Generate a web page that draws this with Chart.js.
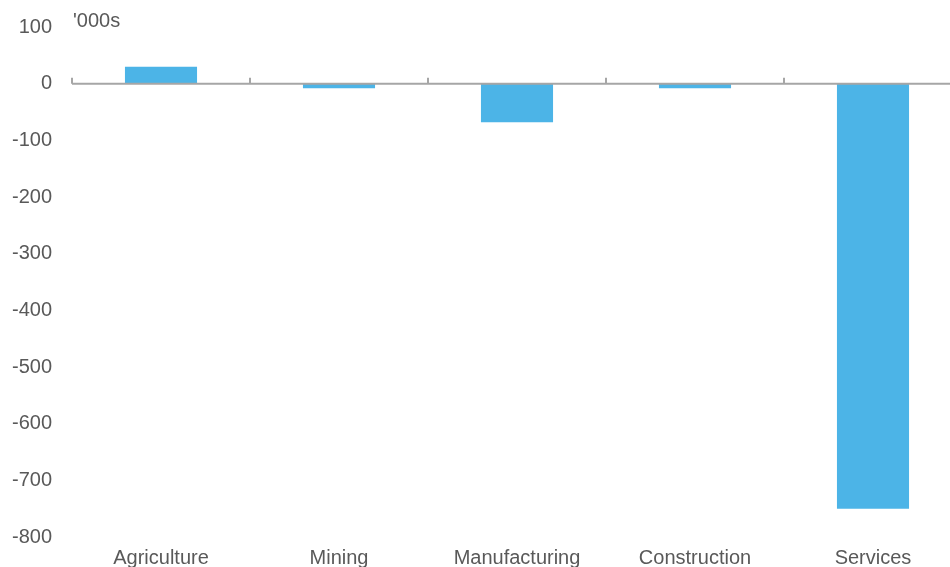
<!DOCTYPE html>
<html>
<head>
<meta charset="utf-8">
<script src="https://cdn.jsdelivr.net/npm/chart.js@4"></script>
<style>
  html, body { margin: 0; padding: 0; background: #fff; overflow: hidden; }
  #wrap { position: relative; width: 962px; height: 567px; }
  #unit { position: absolute; left: 73px; top: 9px; font: 20px "Liberation Sans", Arial, sans-serif; color: #595959; }
</style>
</head>
<body>
<div id="wrap">
  <canvas id="chart" width="962" height="567"></canvas>
  <div id="unit">'000s</div>
</div>
<script>
// sectors and change in employment ('000s)
const sectors = ['Agriculture', 'Mining', 'Manufacturing', 'Construction', 'Services'];
const changes = [30, -8, -68, -8, -750];
const yMin = -800;
const yMax = 100;
const yStep = 100;

const barColor = '#4cb4e7';
const axisGrey = '#a6a6a6';
const textGrey = '#595959';
const fontFamily = '"Liberation Sans", Arial, sans-serif';

// zero line with little tick marks between categories, drawn over the bars
const zeroAxis = {
  id: 'zeroAxis',
  afterDatasetsDraw(chart) {
    const ctx = chart.ctx;
    const x = chart.scales.x;
    const y = chart.scales.y;
    const y0 = y.getPixelForValue(0);
    const half = (x.getPixelForValue(1) - x.getPixelForValue(0)) / 2;
    ctx.save();
    ctx.strokeStyle = axisGrey;
    ctx.lineWidth = 2;
    ctx.beginPath();
    ctx.moveTo(chart.chartArea.left, y0);
    ctx.lineTo(chart.chartArea.right, y0);
    ctx.stroke();
    for (let i = 0; i <= sectors.length; i++) {
      const px = Math.round(x.getPixelForValue(i) - half);
      ctx.beginPath();
      ctx.moveTo(px, y0);
      ctx.lineTo(px, y0 - 6);
      ctx.stroke();
    }
    ctx.restore();
  }
};

new Chart(document.getElementById('chart'), {
  type: 'bar',
  data: {
    labels: sectors,
    datasets: [{
      data: changes,
      backgroundColor: barColor,
      barPercentage: 0.405,
      categoryPercentage: 1
    }]
  },
  options: {
    responsive: false,
    animation: false,
    layout: { padding: { left: 0, right: 0, top: 27, bottom: 0 } },
    plugins: { legend: { display: false }, tooltip: { enabled: false } },
    scales: {
      x: {
        afterFit(scale) { scale.height = 30; },
        grid: { display: false },
        border: { display: false },
        ticks: {
          color: textGrey,
          padding: 1,
          font: { family: fontFamily, size: 20 }
        }
      },
      y: {
        min: yMin,
        max: yMax,
        afterFit(scale) { scale.width = 72; },
        grid: { display: false },
        border: { display: false },
        ticks: {
          stepSize: yStep,
          color: textGrey,
          padding: 12,
          font: { family: fontFamily, size: 20 }
        }
      }
    }
  },
  plugins: [zeroAxis]
});
</script>
</body>
</html>
